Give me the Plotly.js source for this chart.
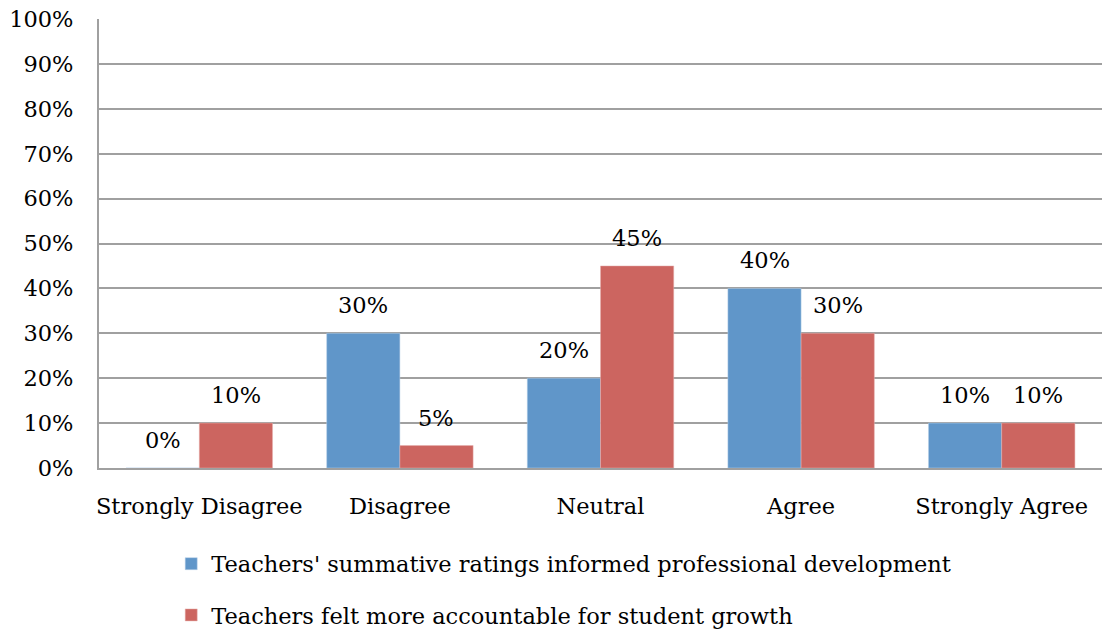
<!DOCTYPE html>
<html>
<head>
<meta charset="utf-8">
<script src="https://cdn.plot.ly/plotly-3.0.1.min.js"></script>
<style>
  html, body { margin: 0; padding: 0; background: #fff; }
  #chart { width: 1102px; height: 631px; }
</style>
</head>
<body>
<div id="chart"></div>
<script>
// Datos
const categorias = ['Strongly Disagree', 'Disagree', 'Neutral', 'Agree', 'Strongly Agree'];
const serieNombres = [
    "Teachers' summative ratings informed professional development",
    'Teachers felt more accountable for student growth'
];
const calificaciones = [0, 0.30, 0.20, 0.40, 0.10];
const responsabilidad = [0.10, 0.05, 0.45, 0.30, 0.10];
const ticksY = [0, 0.1, 0.2, 0.3, 0.4, 0.5, 0.6, 0.7, 0.8, 0.9, 1.0];

const fuente = 'DejaVu Serif, serif';
const tam = 22.5;
const colores = ['#6096C9', '#CC6560'];

const data = [
    {
        x: categorias,
        y: calificaciones,
        name: serieNombres[0],
        type: 'bar',
        legendgroup: 'a',
        marker: { color: colores[0], line: { color: '#B9D0E8', width: 0.5 } },
        hoverinfo: 'none'
    },
    {
        x: categorias,
        y: responsabilidad,
        name: serieNombres[1],
        type: 'bar',
        legendgroup: 'b',
        marker: { color: colores[1], line: { color: '#E6B1AE', width: 0.5 } },
        hoverinfo: 'none'
    }
];

// Etiquetas de valores sobre cada barra
const etiquetas = [];
[calificaciones, responsabilidad].forEach((serie, i) => {
    serie.forEach((v, j) => {
        etiquetas.push({
            x: categorias[j],
            y: v,
            xref: 'x',
            yref: 'y',
            text: Math.round(v * 100) + '%',
            showarrow: false,
            xshift: i === 0 ? -36.5 : 36.5,
            yshift: 28,
            font: { family: fuente, size: tam, color: '#000' }
        });
    });
});

const layout = {
    width: 1102,
    height: 631,
    paper_bgcolor: '#fff',
    plot_bgcolor: '#fff',
    font: { family: fuente, size: tam, color: '#000' },
    margin: { l: 99, r: 0, t: 19, b: 163, autoexpand: false },
    barmode: 'group',
    bargap: 0.27,
    bargroupgap: 0,
    xaxis: {
        type: 'category',
        showgrid: false,
        showline: true,
        linecolor: '#A0A0A0',
        linewidth: 2,
        ticks: '',
        ticklabelstandoff: 17,
        tickfont: { family: fuente, size: tam, color: '#000' }
    },
    yaxis: {
        range: [0, 1],
        tickvals: ticksY,
        tickformat: '.0%',
        showgrid: true,
        gridcolor: '#A0A0A0',
        gridwidth: 2,
        zeroline: false,
        showline: true,
        linecolor: '#A0A0A0',
        linewidth: 2,
        ticks: '',
        ticklabelstandoff: 19,
        tickfont: { family: fuente, size: tam, color: '#000' }
    },
    legend: {
        orientation: 'v',
        x: 0.072,
        xanchor: 'left',
        y: -0.166,
        yanchor: 'top',
        traceorder: 'grouped',
        tracegroupgap: 19,
        font: { family: fuente, size: tam, color: '#000' },
        bgcolor: 'rgba(0,0,0,0)'
    },
    annotations: etiquetas,
    showlegend: true
};

Plotly.newPlot('chart', data, layout, { displayModeBar: false, staticPlot: true });
</script>
</body>
</html>
